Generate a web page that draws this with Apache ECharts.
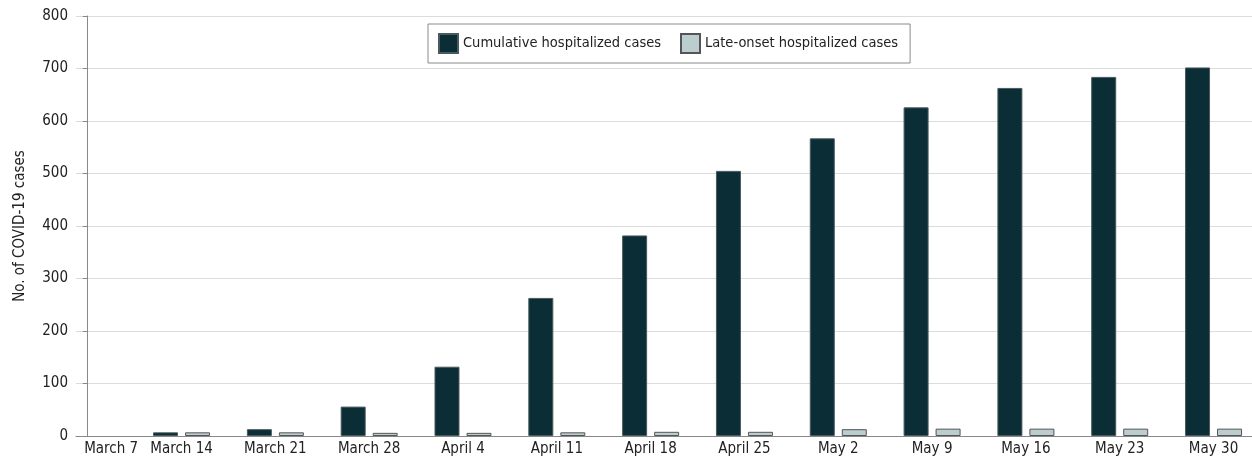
<!DOCTYPE html>
<html>
<head>
<meta charset="utf-8">
<script src="https://cdn.jsdelivr.net/npm/echarts@6/dist/echarts.min.js"></script>
<style>
  html, body { margin: 0; padding: 0; background: #fff; }
  #main { width: 1252px; height: 458px; }
</style>
</head>
<body>
<div id="main"></div>
<script>
var weeks = ['March 7', 'March 14', 'March 21', 'March 28', 'April 4', 'April 11', 'April 18',
  'April 25', 'May 2', 'May 9', 'May 16', 'May 23', 'May 30'];
var cumulative = [0, 7, 13, 56, 132, 263, 382, 505, 567, 626, 663, 684, 702];
var lateOnset = [0, 7, 7, 6, 6, 7, 8, 8, 13, 14, 14, 14, 14];
var yTicks = [0, 100, 200, 300, 400, 500, 600, 700, 800];

var font = '"Liberation Sans Narrow", "DejaVu Sans Condensed", sans-serif';

// x positions are week indexes; first label nudged right off the y axis like the original
var labelPos = weeks.map(function (w, i) { return i === 0 ? 0.25 : i; });

function toBars(values) {
  return values.map(function (v, i) {
    var item = { value: [i, v] };
    if (v === 0) item.itemStyle = { borderWidth: 0 };
    return item;
  });
}

var myChart = echarts.init(document.getElementById('main'));
myChart.setOption({
  animation: false,
  textStyle: { fontFamily: font },
  grid: { left: 76, right: 0, top: 16, bottom: 22, outerBoundsMode: 'none' },
  legend: {
    left: 428, top: 24,
    padding: [9, 12, 9, 10],
    borderColor: '#8a8a8a', borderWidth: 1, backgroundColor: '#fff',
    icon: 'rect',
    itemWidth: 19, itemHeight: 19, itemGap: 19,
    textStyle: { fontFamily: font, fontSize: 14.5, color: '#222' },
    data: ['Cumulative hospitalized cases', 'Late-onset hospitalized cases']
  },
  xAxis: {
    type: 'value',
    min: -0.125, max: 12.41,
    splitLine: { show: false },
    axisLine: { show: true, lineStyle: { color: '#888', width: 1 } },
    axisTick: { show: false },
    axisLabel: {
      customValues: labelPos,
      margin: 6,
      fontFamily: font, fontSize: 15, color: '#222',
      formatter: function (v) { return weeks[Math.round(v)]; }
    }
  },
  yAxis: {
    type: 'value',
    min: 0, max: 800, interval: 100,
    name: 'No. of COVID-19 cases',
    nameLocation: 'middle', nameGap: 48,
    nameTextStyle: { fontFamily: font, fontSize: 15, color: '#222' },
    axisLine: { show: true, lineStyle: { color: '#888' } },
    axisTick: { show: true, length: 5, lineStyle: { color: '#888' } },
    axisLabel: {
      fontFamily: font, fontSize: 15, color: '#222', margin: 8,
      formatter: function (v) { return yTicks.indexOf(v) >= 0 ? String(v) : ''; }
    },
    splitLine: { lineStyle: { color: '#dcdcdc' } }
  },
  series: [
    {
      name: 'Cumulative hospitalized cases',
      type: 'bar',
      barWidth: 25, barGap: '28%',
      itemStyle: { color: '#0b2d35', borderColor: '#4a5a5e', borderWidth: 1 },
      data: toBars(cumulative)
    },
    {
      name: 'Late-onset hospitalized cases',
      type: 'bar',
      barWidth: 25, barGap: '28%',
      itemStyle: { color: '#bccdd0', borderColor: '#555', borderWidth: 1 },
      data: toBars(lateOnset)
    }
  ]
});
</script>
</body>
</html>
